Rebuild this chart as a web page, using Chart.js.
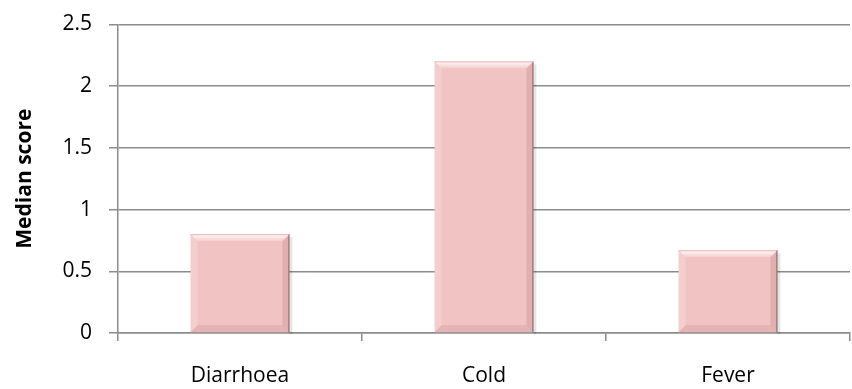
<!DOCTYPE html>
<html><head><meta charset="utf-8">
<script src="https://cdn.jsdelivr.net/npm/chart.js@4/dist/chart.umd.min.js"></script>
<style>html,body{margin:0;padding:0;background:#fff}#wrap{width:852px;height:389px}</style>
</head><body><div id="wrap"><canvas id="c" width="852" height="389"></canvas></div>
<script>
const categories = ["Diarrhoea", "Cold", "Fever"];
const medianScores = [0.8, 2.2, 0.67];
const yTicks = [0, 0.5, 1, 1.5, 2, 2.5];
const yTitle = "Median score";

const bevel = {
  id: 'bevel',
  afterDatasetsDraw(chart) {
    const ctx = chart.ctx;
    const meta = chart.getDatasetMeta(0);
    meta.data.forEach(b => {
      const l = b.x - b.width / 2, r = b.x + b.width / 2, t = b.y, bt = b.base;
      const d = 7;
      ctx.save();
      let g = ctx.createLinearGradient(0, t, 0, t + d);
      g.addColorStop(0, 'rgba(255,255,255,0.95)');
      g.addColorStop(1, 'rgba(255,255,255,0.15)');
      ctx.fillStyle = g;
      ctx.beginPath(); ctx.moveTo(l, t); ctx.lineTo(r, t); ctx.lineTo(r - d, t + d); ctx.lineTo(l + d, t + d); ctx.closePath(); ctx.fill();
      ctx.fillStyle = 'rgba(255,255,255,0.18)';
      ctx.beginPath(); ctx.moveTo(l, t); ctx.lineTo(l + d, t + d); ctx.lineTo(l + d, bt - d); ctx.lineTo(l, bt); ctx.closePath(); ctx.fill();
      ctx.fillStyle = 'rgba(150,90,90,0.18)';
      ctx.beginPath(); ctx.moveTo(r, t); ctx.lineTo(r - d, t + d); ctx.lineTo(r - d, bt - d); ctx.lineTo(r, bt); ctx.closePath(); ctx.fill();
      ctx.fillStyle = 'rgba(150,90,90,0.15)';
      ctx.beginPath(); ctx.moveTo(l, bt); ctx.lineTo(l + d, bt - d); ctx.lineTo(r - d, bt - d); ctx.lineTo(r, bt); ctx.closePath(); ctx.fill();
      ctx.strokeStyle = 'rgba(110,70,70,0.75)'; ctx.lineWidth = 1;
      ctx.beginPath(); ctx.moveTo(r - 0.5, t); ctx.lineTo(r - 0.5, bt); ctx.stroke();
      ctx.strokeStyle = 'rgba(230,170,170,0.9)';
      ctx.beginPath(); ctx.moveTo(l, t + 0.5); ctx.lineTo(r, t + 0.5); ctx.stroke();
      ctx.fillStyle = 'rgba(0,0,0,0.10)';
      ctx.fillRect(r, t + 3, 3, bt - t - 1);
      ctx.restore();
    });
  }
};

new Chart(document.getElementById('c'), {
  type: 'bar',
  data: {
    labels: categories,
    datasets: [{
      data: medianScores,
      backgroundColor: '#f2c3c3',
      borderWidth: 0,
      categoryPercentage: 0.81,
      barPercentage: 0.5
    }]
  },
  options: {
    responsive: false,
    animation: false,
    events: [],
    layout: { padding: { left: 10, right: 2, top: 23, bottom: 0 } },
    plugins: { legend: { display: false }, tooltip: { enabled: false } },
    scales: {
      x: {
        grid: { drawOnChartArea: false, drawTicks: true, tickLength: 8, color: '#8c8c8c', lineWidth: 1.5, offset: true },
        border: { color: '#8c8c8c', width: 1.5 },
        ticks: { color: '#000', font: { family: 'Open Sans', size: 21 }, padding: 22, maxRotation: 0 },
        afterFit(s) { s.height = 56; }
      },
      y: {
        min: 0, max: 2.5,
        afterBuildTicks(s) { s.ticks = yTicks.map(v => ({ value: v })); },
        grid: { color: '#8c8c8c', lineWidth: 1.5, tickLength: 9 },
        border: { color: '#8c8c8c', width: 1.5 },
        ticks: { color: '#000', font: { family: 'Open Sans', size: 21, lineHeight: 0.7 }, padding: 17, callback: v => String(v) },
        title: { display: true, text: yTitle, color: '#000', font: { family: 'Open Sans', size: 21, weight: 'bold' }, padding: { top: 2, bottom: 10 } },
        afterFit(s) { s.width = 108; }
      }
    }
  },
  plugins: [bevel]
});
</script></body></html>
